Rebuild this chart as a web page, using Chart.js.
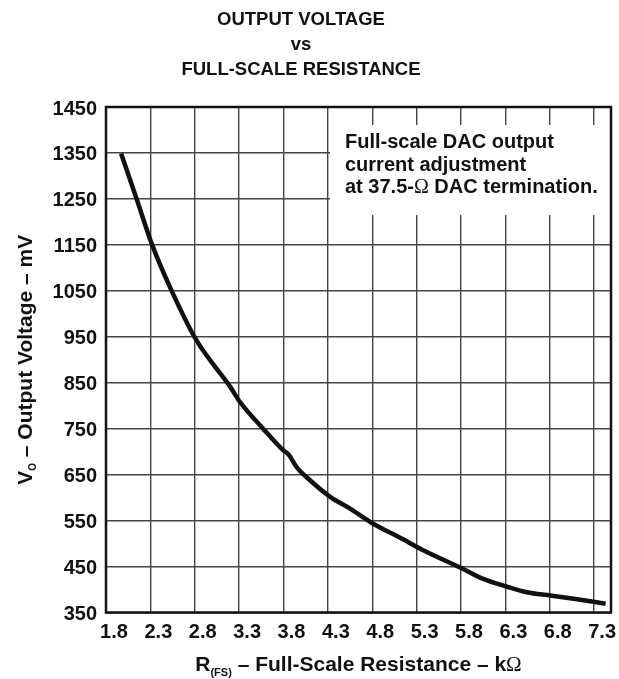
<!DOCTYPE html>
<html>
<head>
<meta charset="utf-8">
<script src="https://cdn.jsdelivr.net/npm/chart.js@4.4.1/dist/chart.umd.min.js"></script>
<style>
  body { margin: 0; background: #fff; }
</style>
</head>
<body>
<canvas id="chart" width="619" height="679"></canvas>
<script>
// values
const resistance = [1.97, 2.15, 2.32, 2.54, 2.82, 3.20, 3.31, 3.57, 3.78, 3.86, 3.95, 4.08, 4.33, 4.55, 4.81, 5.12, 5.38, 5.80, 6.05, 6.32, 6.54, 6.81, 7.07, 7.43];
const voltage = [1349, 1247, 1150, 1050, 942, 841, 808, 750, 706, 693, 666, 641, 601, 576, 543, 512, 485, 447, 423, 406, 394, 387, 380, 369];

const xTicks = [1.8, 2.3, 2.8, 3.3, 3.8, 4.3, 4.8, 5.3, 5.8, 6.3, 6.8, 7.3];
const yTicks = [350, 450, 550, 650, 750, 850, 950, 1050, 1150, 1250, 1350, 1450];

const titleLines = ["OUTPUT VOLTAGE", "vs", "FULL-SCALE RESISTANCE"];

const SANS = "'Liberation Sans', Arial, sans-serif";
const SERIF = "'Liberation Serif', 'Times New Roman', serif";
const B20 = "bold 20px " + SANS;
const B21 = "bold 21px " + SANS;

const noteLines = [
  [["Full-scale DAC output", B20]],
  [["current adjustment", B20]],
  [["at 37.5-", B20], ["\u03A9", "20px " + SERIF], [" DAC termination.", B20]]
];
const xTitle = [["R", B21], ["(FS)", "bold 11px " + SANS, 5], [" \u2013 Full-Scale Resistance \u2013 k", B21], ["\u03A9", "21px " + SERIF]];
const yTitle = [["V", B21], ["O", "bold 10px " + SANS, 4], [" \u2013 Output Voltage \u2013 mV", B21]];

function drawRuns(ctx, runs, x, y, align) {
  let w = 0;
  runs.forEach(r => { ctx.font = r[1]; w += ctx.measureText(r[0]).width; });
  let cx = align === "center" ? x - w / 2 : x;
  runs.forEach(r => {
    ctx.font = r[1];
    ctx.fillText(r[0], cx, y + (r[2] || 0));
    cx += ctx.measureText(r[0]).width;
  });
}

const decor = {
  id: "decor",
  beforeDatasetsDraw(chart) {
    const { ctx, chartArea: a } = chart;
    ctx.save();
    ctx.fillStyle = "#fff";
    ctx.fillRect(a.left + 224, a.top + 18, a.right - a.left - 224, 90);
    ctx.restore();
  },
  afterDraw(chart) {
    const { ctx, chartArea: a } = chart;
    ctx.save();
    ctx.fillStyle = "#111";
    ctx.textBaseline = "alphabetic";

    ctx.font = "bold 18.5px " + SANS;
    ctx.textAlign = "center";
    titleLines.forEach((t, i) => ctx.fillText(t, 301, 25 + i * 25));

    ctx.textAlign = "left";
    noteLines.forEach((l, i) => drawRuns(ctx, l, a.left + 239, a.top + 41 + i * 22.5));

    drawRuns(ctx, xTitle, (a.left + a.right) / 2, 671, "center");

    ctx.save();
    ctx.translate(32, (a.top + a.bottom) / 2);
    ctx.rotate(-Math.PI / 2);
    drawRuns(ctx, yTitle, 0, 0, "center");
    ctx.restore();

    ctx.strokeStyle = "#111";
    ctx.lineWidth = 2.5;
    ctx.strokeRect(a.left, a.top, a.right - a.left, a.bottom - a.top);
    ctx.restore();
  }
};

const tickFont = { family: SANS, size: 20, weight: "bold" };
const gridStyle = { color: "#444", lineWidth: 1.4, drawTicks: false };

new Chart(document.getElementById("chart"), {
  type: "line",
  data: {
    datasets: [{
      data: resistance.map((r, i) => ({ x: r, y: voltage[i] })),
      borderColor: "#111",
      borderWidth: 4.5,
      pointRadius: 0,
      cubicInterpolationMode: "monotone",
      fill: false
    }]
  },
  options: {
    responsive: false,
    animation: false,
    layout: { padding: { top: 107, right: 8, left: 0, bottom: 0 } },
    plugins: { legend: { display: false }, tooltip: { enabled: false }, title: { display: false } },
    scales: {
      x: {
        type: "linear",
        min: 1.8,
        max: 7.49,
        afterBuildTicks: s => { s.ticks = xTicks.map(v => ({ value: v })); },
        afterFit: s => { s.height = 66.5; },
        grid: gridStyle,
        border: { display: false },
        ticks: { padding: 8, labelOffset: 8, color: "#111", font: tickFont, maxRotation: 0, autoSkip: false,
                 callback: v => v.toFixed(1) }
      },
      y: {
        min: 350,
        max: 1450,
        afterBuildTicks: s => { s.ticks = yTicks.map(v => ({ value: v })); },
        afterFit: s => { s.width = 106; },
        grid: gridStyle,
        border: { display: false },
        ticks: { padding: 9, labelOffset: 2, color: "#111", font: tickFont, autoSkip: false,
                 callback: v => String(v) }
      }
    }
  },
  plugins: [decor]
});
</script>
</body>
</html>
